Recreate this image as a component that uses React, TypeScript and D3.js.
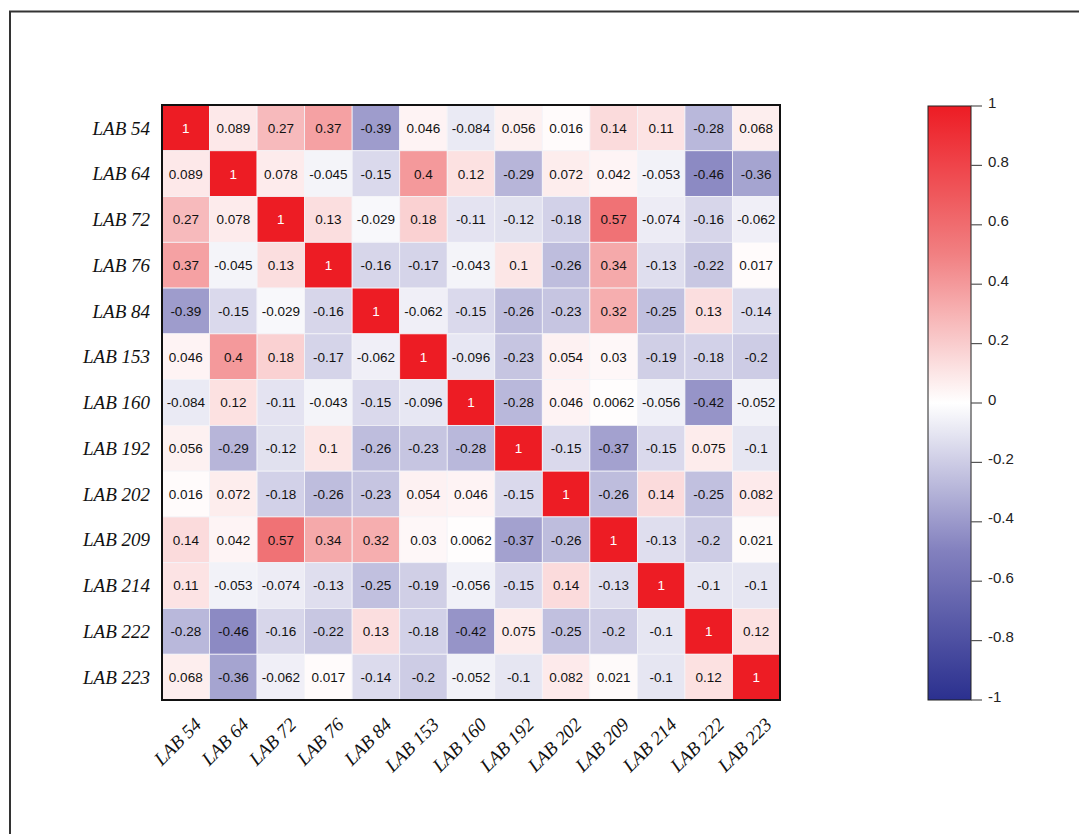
import React from "react";
import * as d3 from "d3";

const labels = ["LAB 54","LAB 64","LAB 72","LAB 76","LAB 84","LAB 153","LAB 160","LAB 192","LAB 202","LAB 209","LAB 214","LAB 222","LAB 223"];

const row54  = [1, 0.089, 0.27, 0.37, -0.39, 0.046, -0.084, 0.056, 0.016, 0.14, 0.11, -0.28, 0.068];
const row64  = [0.089, 1, 0.078, -0.045, -0.15, 0.4, 0.12, -0.29, 0.072, 0.042, -0.053, -0.46, -0.36];
const row72  = [0.27, 0.078, 1, 0.13, -0.029, 0.18, -0.11, -0.12, -0.18, 0.57, -0.074, -0.16, -0.062];
const row76  = [0.37, -0.045, 0.13, 1, -0.16, -0.17, -0.043, 0.1, -0.26, 0.34, -0.13, -0.22, 0.017];
const row84  = [-0.39, -0.15, -0.029, -0.16, 1, -0.062, -0.15, -0.26, -0.23, 0.32, -0.25, 0.13, -0.14];
const row153 = [0.046, 0.4, 0.18, -0.17, -0.062, 1, -0.096, -0.23, 0.054, 0.03, -0.19, -0.18, -0.2];
const row160 = [-0.084, 0.12, -0.11, -0.043, -0.15, -0.096, 1, -0.28, 0.046, 0.0062, -0.056, -0.42, -0.052];
const row192 = [0.056, -0.29, -0.12, 0.1, -0.26, -0.23, -0.28, 1, -0.15, -0.37, -0.15, 0.075, -0.1];
const row202 = [0.016, 0.072, -0.18, -0.26, -0.23, 0.054, 0.046, -0.15, 1, -0.26, 0.14, -0.25, 0.082];
const row209 = [0.14, 0.042, 0.57, 0.34, 0.32, 0.03, 0.0062, -0.37, -0.26, 1, -0.13, -0.2, 0.021];
const row214 = [0.11, -0.053, -0.074, -0.13, -0.25, -0.19, -0.056, -0.15, 0.14, -0.13, 1, -0.1, -0.1];
const row222 = [-0.28, -0.46, -0.16, -0.22, 0.13, -0.18, -0.42, 0.075, -0.25, -0.2, -0.1, 1, 0.12];
const row223 = [0.068, -0.36, -0.062, 0.017, -0.14, -0.2, -0.052, -0.1, 0.082, 0.021, -0.1, 0.12, 1];

const matrix = [row54,row64,row72,row76,row84,row153,row160,row192,row202,row209,row214,row222,row223];

const colorTicks = [1, 0.8, 0.6, 0.4, 0.2, 0, -0.2, -0.4, -0.6, -0.8, -1];

const color = d3.scaleLinear<string>()
  .domain([-1, -0.5, 0, 0.5, 1])
  .range(["rgb(43,48,143)", "rgb(130,128,190)", "rgb(255,255,255)", "rgb(241,128,130)", "rgb(237,28,36)"])
  .interpolate(d3.interpolateRgb)
  .clamp(true);

export default function App() {
  const W = 1079, H = 834;
  const left = 162, top = 105, right = 780, bottom = 700;
  const x = d3.scaleBand<string>().domain(labels).range([left, right]);
  const y = d3.scaleBand<string>().domain(labels).range([top, bottom]);

  const cbX = 928, cbW = 43, cbTop = 106, cbBottom = 700;
  const cy = d3.scaleLinear().domain([1, -1]).range([cbTop, cbBottom]);
  const gradStops = d3.range(0, 21).map(i => -1 + i * 0.1);

  const fmt = (v: number) => String(v);

  return (
    <svg width={W} height={H} style={{ display: "block", position: "absolute", left: 0, top: 0 }}>
      <defs>
        <linearGradient id="cbgrad" x1="0" y1="1" x2="0" y2="0">
          {gradStops.map((v, i) => (
            <stop key={i} offset={`${((v + 1) / 2) * 100}%`} stopColor={color(v)} />
          ))}
        </linearGradient>
      </defs>
      <rect x={0} y={0} width={W} height={H} fill="#fff" />
      <rect x={10} y={11.5} width={W + 20} height={H + 20} fill="none" stroke="#333" strokeWidth={2} />

      {matrix.map((row, i) =>
        row.map((v, j) => (
          <g key={`${i}-${j}`}>
            <rect
              x={x(labels[j])!}
              y={y(labels[i])!}
              width={x.bandwidth()}
              height={y.bandwidth()}
              fill={color(v)}
              stroke="#f4f4f8"
              strokeWidth={0.8}
            />
            <text
              x={x(labels[j])! + x.bandwidth() / 2}
              y={y(labels[i])! + y.bandwidth() / 2}
              dy="0.36em"
              textAnchor="middle"
              fontFamily="'Liberation Sans', Arial, sans-serif"
              fontSize={13.5}
              fill={Math.abs(v) === 1 ? "#fff" : "#111"}
            >
              {fmt(v)}
            </text>
          </g>
        ))
      )}
      <rect x={left} y={top} width={right - left} height={bottom - top} fill="none" stroke="#111" strokeWidth={2} />

      {labels.map(l => (
        <text
          key={`r-${l}`}
          x={150}
          y={y(l)! + y.bandwidth() / 2}
          dy="0.35em"
          textAnchor="end"
          fontFamily="'Liberation Serif', 'Times New Roman', serif"
          fontStyle="italic"
          fontSize={19}
          fill="#111"
        >
          {l}
        </text>
      ))}

      {labels.map(l => {
        const cx = x(l)! + x.bandwidth() / 2 + 12;
        const ty = bottom + 21;
        return (
          <text
            key={`c-${l}`}
            transform={`translate(${cx},${ty}) rotate(-45)`}
            textAnchor="end"
            dy="0.35em"
            fontFamily="'Liberation Serif', 'Times New Roman', serif"
            fontStyle="italic"
            fontSize={19}
            fill="#111"
          >
            {l}
          </text>
        );
      })}

      <rect x={cbX} y={cbTop} width={cbW} height={cbBottom - cbTop} fill="url(#cbgrad)" stroke="#222" strokeWidth={1} />
      {colorTicks.map(t => (
        <g key={`t-${t}`}>
          <line x1={cbX + cbW} x2={cbX + cbW + 11} y1={cy(t)} y2={cy(t)} stroke="#555" strokeWidth={1.2} />
          <text
            x={cbX + cbW + 17}
            y={cy(t)}
            dy="0.1em"
            fontFamily="'Liberation Sans', Arial, sans-serif"
            fontSize={15}
            fill="#222"
          >
            {String(t)}
          </text>
        </g>
      ))}
    </svg>
  );
}
